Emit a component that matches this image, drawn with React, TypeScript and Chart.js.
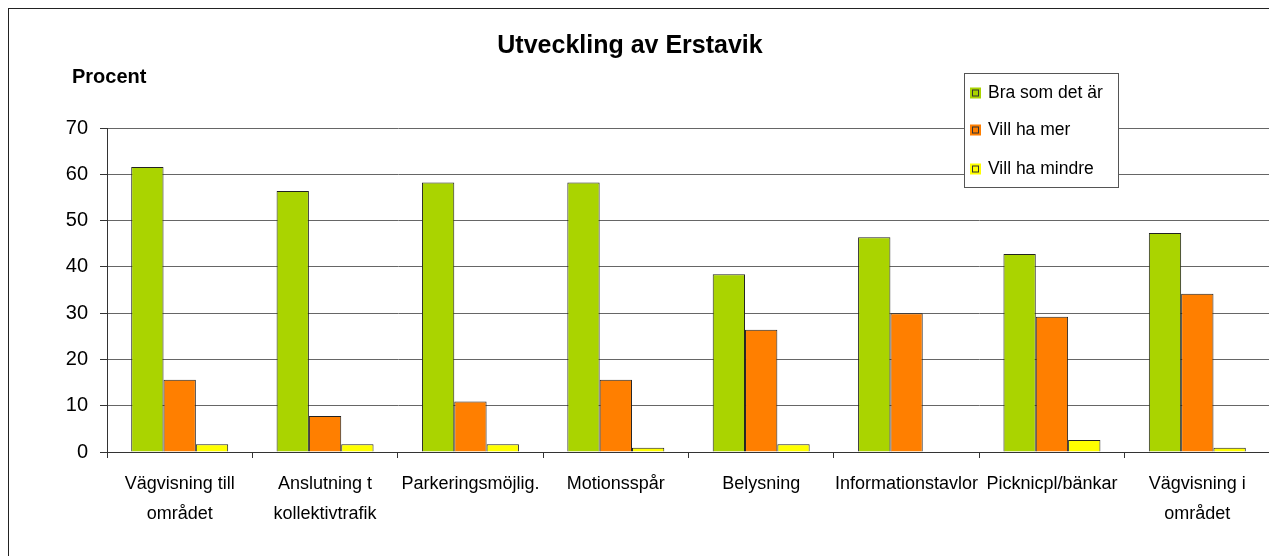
import React, { useEffect, useRef } from "react";
import { Chart, registerables } from "chart.js";

Chart.register(...registerables);

const TITLE = "Utveckling av Erstavik";
const Y_TITLE = "Procent";

const categories: (string | string[])[] = [
  ["Vägvisning till", "området"],
  ["Anslutning t", "kollektivtrafik"],
  "Parkeringsmöjlig.",
  "Motionsspår",
  "Belysning",
  "Informationstavlor",
  "Picknicpl/bänkar",
  ["Vägvisning i", "området"],
];

const seriesNames = ["Bra som det är", "Vill ha mer", "Vill ha mindre"];
const braSomDetAr = [61.6, 56.4, 58.2, 58.2, 38.4, 46.4, 42.8, 47.3];
const villHaMer = [15.6, 7.8, 10.9, 15.6, 26.4, 30.0, 29.2, 34.2];
const villHaMindre = [1.7, 1.7, 1.7, 0.9, 1.7, 0, 2.6, 0.9];
const seriesColors = ["#AAD400", "#FF7F00", "#FFFF00"];

const yTicks = [0, 10, 20, 30, 40, 50, 60, 70];

const FONT = '"Liberation Sans", Arial, sans-serif';

const overlayPlugin = {
  id: "overlay",
  afterDraw(chart: any) {
    const ctx: CanvasRenderingContext2D = chart.ctx;
    const ca = chart.chartArea;
    ctx.save();
    // plot area right border
    ctx.strokeStyle = "#808080";
    ctx.lineWidth = 1;
    ctx.beginPath();
    ctx.moveTo(Math.round(ca.right) + 0.5, ca.top);
    ctx.lineTo(Math.round(ca.right) + 0.5, ca.bottom);
    ctx.stroke();

    // title
    ctx.fillStyle = "#000";
    ctx.font = `bold 25px ${FONT}`;
    ctx.textAlign = "center";
    ctx.textBaseline = "alphabetic";
    ctx.fillText(TITLE, 621, 44);

    // y axis title
    ctx.font = `bold 20px ${FONT}`;
    ctx.textAlign = "left";
    ctx.fillText(Y_TITLE, 63, 74);

    // legend
    const bx = 955.5, by = 64.5, bw = 154, bh = 114;
    ctx.fillStyle = "#fff";
    ctx.fillRect(bx, by, bw, bh);
    ctx.strokeStyle = "#555";
    ctx.strokeRect(bx, by, bw, bh);
    const rows = [84, 121, 160];
    ctx.font = `17.5px ${FONT}`;
    ctx.textBaseline = "middle";
    chart.data.datasets.forEach((ds: any, i: number) => {
      const cy = rows[i];
      ctx.fillStyle = ds.backgroundColor;
      ctx.fillRect(961, cy - 5.5, 11, 11);
      ctx.strokeStyle = "#333";
      ctx.strokeRect(963.5, cy - 3, 6, 6);
      ctx.fillStyle = "#000";
      ctx.fillText(ds.label, 979, cy);
    });
    ctx.restore();
  },
};

export default function App() {
  const ref = useRef<HTMLCanvasElement | null>(null);
  useEffect(() => {
    if (!ref.current) return;
    const values = [braSomDetAr, villHaMer, villHaMindre];
    const chart = new Chart(ref.current, {
      type: "bar",
      data: {
        labels: categories,
        datasets: values.map((v, i) => ({
          label: seriesNames[i],
          data: v,
          backgroundColor: seriesColors[i],
          borderColor: "#222",
          borderWidth: 1,
          barPercentage: 1,
          categoryPercentage: 0.667,
        })),
      },
      options: {
        responsive: false,
        animation: false,
        devicePixelRatio: 1,
        layout: { padding: { left: 0, top: 119, right: 7, bottom: 0 } },
        plugins: {
          legend: { display: false },
          title: { display: false },
          tooltip: { enabled: false },
        },
        scales: {
          x: {
            grid: {
              offset: true,
              drawOnChartArea: false,
              drawTicks: true,
              tickLength: 6,
              color: "#333",
            },
            border: { color: "#333", width: 1 },
            ticks: {
              color: "#000",
              padding: 11,
              maxRotation: 0,
              autoSkip: false,
              font: { family: FONT, size: 18, lineHeight: 1.667 },
            },
            afterFit: (scale: any) => {
              scale.height = 104;
            },
          },
          y: {
            min: 0,
            max: 70,
            afterBuildTicks: (scale: any) => {
              scale.ticks = yTicks.map((v) => ({ value: v }));
            },
            grid: {
              color: "#666",
              tickColor: "#333",
              tickLength: 7,
            },
            border: { color: "#333", width: 1 },
            ticks: {
              color: "#000",
              padding: 12,
              font: { family: FONT, size: 20 },
            },
            afterFit: (scale: any) => {
              scale.width = 98;
            },
          },
        },
      },
      plugins: [overlayPlugin],
    });
    return () => chart.destroy();
  }, []);

  return (
    <div
      style={{
        width: 1269,
        height: 548,
        boxSizing: "border-box",
        borderTop: "1px solid #222",
        borderLeft: "1px solid #222",
        background: "#fff",
      }}
    >
      <canvas ref={ref} width={1268} height={547} style={{ display: "block" }} />
    </div>
  );
}
